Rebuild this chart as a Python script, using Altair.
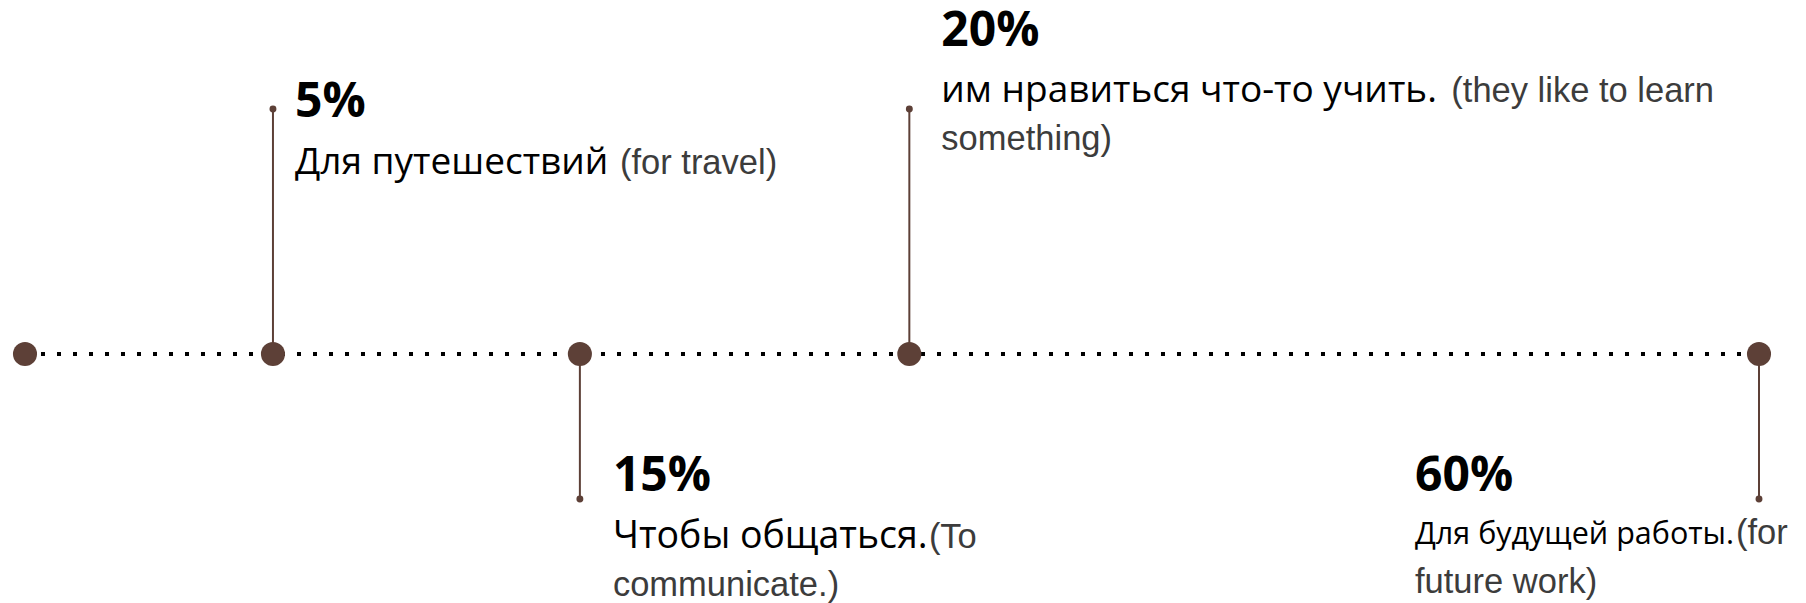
import altair as alt
import pandas as pd

# ---- data -------------------------------------------------------------
positions = [0.0, 0.143, 0.320, 0.510, 1.0]          # place along the timeline
sides = [0, 1, -1, 1, -1]                             # 1 = label above, -1 = below
pcts = ["", "5%", "15%", "20%", "60%"]
ru_text = ["", "Для путешествий", "Чтобы общаться.",
           "им нравиться что-то учить.", "Для будущей работы."]
en_line1 = ["", "(for travel)", "(To", "(they like to learn", "(for"]
en_line2 = ["", "", "communicate.)", "something)", "future work)"]

df = pd.DataFrame({
    "idx": list(range(len(positions))),
    "pos": positions,
    "side": sides,
    "pct": pcts,
    "ru": ru_text,
    "en1": en_line1,
    "en2": en_line2,
})

# ---- styling / layout (not data) -------------------------------------
BROWN = "#5d4037"
GRAY = "#3c3c3c"
PCT_FONT = "Open Sans"
RU_FONT = "Open Sans"
EN_FONT = "Liberation Sans"

# per label: offsets of each text piece from the stem end, and font sizes
layout = {
    1: dict(pct=(22, 8), ru=(22, 65), en1=(347, 65), en2=None, ru_size=37, en_size=34.5),
    2: dict(pct=(33, -8), ru=(33, 49), en1=(349, 49), en2=(33, 97), ru_size=37.5, en_size=34.5),
    3: dict(pct=(32, -63), ru=(32, -7), en1=(542, -7), en2=(32, 41), ru_size=37, en_size=34.5),
    4: dict(pct=(-344, -8), ru=(-344, 45), en1=(-23, 45), en2=(-344, 94), ru_size=30.5, en_size=34.5),
}

xs = alt.Scale(domain=[0, 1], range=[17, 1751])
ys = alt.Scale(domain=[-1, 0, 1], range=[491, 346, 101])

base = alt.Chart(df)
X = alt.X("pos:Q", scale=xs, axis=None)
Y = alt.Y("side:Q", scale=ys, axis=None)
Y0 = alt.Y(datum=0, scale=ys, axis=None)

dotted = base.mark_line(color="black", strokeWidth=4, strokeDash=[4, 12],
                        strokeCap="butt").encode(x=X, y=Y0)

stems = base.transform_filter("datum.side != 0").mark_rule(
    color=BROWN, strokeWidth=2).encode(x=X, y=Y, y2=alt.Y2(datum=0))

small = base.transform_filter("datum.side != 0").mark_point(
    filled=True, color=BROWN, opacity=1, size=48).encode(x=X, y=Y)

big = base.mark_point(filled=True, color=BROWN, opacity=1, size=580).encode(x=X, y=Y0)

layers = [dotted, stems, small, big]

for i, cfg in layout.items():
    sub = base.transform_filter(f"datum.idx == {i}")
    dx, dy = cfg["pct"]
    layers.append(sub.mark_text(align="left", baseline="alphabetic", font=PCT_FONT,
                                fontWeight="bold", fontSize=48, color="black",
                                dx=dx, dy=dy).encode(x=X, y=Y, text="pct:N"))
    dx, dy = cfg["ru"]
    layers.append(sub.mark_text(align="left", baseline="alphabetic", font=RU_FONT,
                                fontSize=cfg["ru_size"], color="black",
                                dx=dx, dy=dy).encode(x=X, y=Y, text="ru:N"))
    dx, dy = cfg["en1"]
    layers.append(sub.mark_text(align="left", baseline="alphabetic", font=EN_FONT,
                                fontSize=cfg["en_size"], color=GRAY,
                                dx=dx, dy=dy).encode(x=X, y=Y, text="en1:N"))
    if cfg["en2"] is not None:
        dx, dy = cfg["en2"]
        layers.append(sub.mark_text(align="left", baseline="alphabetic", font=EN_FONT,
                                    fontSize=cfg["en_size"], color=GRAY,
                                    dx=dx, dy=dy).encode(x=X, y=Y, text="en2:N"))

chart = alt.layer(*layers).properties(
    width=1790, height=595, autosize=alt.AutoSizeParams(type="none"), padding=0,
    background="white"
).configure_view(stroke=None, strokeWidth=0)

chart.save("out.html", embed_options={"renderer": "svg", "actions": False})
